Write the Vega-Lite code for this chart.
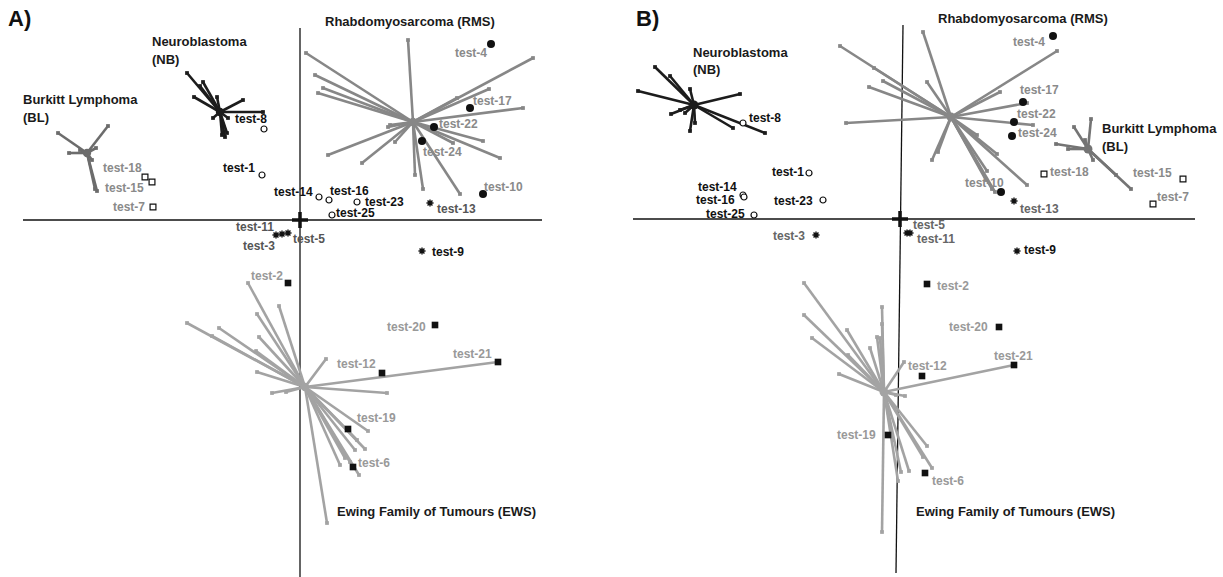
{
  "$schema": "https://vega.github.io/schema/vega-lite/v6.json",
  "padding": 0,
  "spacing": 0,
  "background": "white",
  "config": {"view": {"stroke": null}, "font": "Liberation Sans"},
  "resolve": {"scale": {"x": "independent", "y": "independent"}},
  "datasets": {
    "axes": [
      {"p": "A", "part": "axis", "x": -277, "y": 0, "x2": 242, "y2": 0},
      {"p": "A", "part": "axis", "x": 0, "y": 192, "x2": 0, "y2": -357},
      {"p": "A", "part": "cross", "x": -8, "y": 0, "x2": 8, "y2": 0},
      {"p": "A", "part": "cross", "x": 0, "y": -8, "x2": 0, "y2": 8},
      {"p": "B", "part": "axis", "x": -267, "y": 0, "x2": 295, "y2": 0},
      {"p": "B", "part": "axis", "x": 3, "y": 194, "x2": -4, "y2": -354},
      {"p": "B", "part": "cross", "x": -8, "y": 0, "x2": 8, "y2": 0},
      {"p": "B", "part": "cross", "x": 0, "y": -8, "x2": 0, "y2": 8}
    ],
    "centroids": [
      {"k": "A-BL", "p": "A", "g": "BL", "x": -213, "y": 67},
      {"k": "A-NB", "p": "A", "g": "NB", "x": -80, "y": 108},
      {"k": "A-RMS", "p": "A", "g": "RMS", "x": 113, "y": 98},
      {"k": "A-EWS", "p": "A", "g": "EWS", "x": 5, "y": -167},
      {"k": "B-NB", "p": "B", "g": "NB", "x": -206, "y": 114},
      {"k": "B-RMS", "p": "B", "g": "RMS", "x": 51, "y": 102},
      {"k": "B-BL", "p": "B", "g": "BL", "x": 188, "y": 70},
      {"k": "B-EWS", "p": "B", "g": "EWS", "x": -16, "y": -173}
    ],
    "stars": [
      {"k": "A-BL", "p": "A", "g": "BL", "x": -242, "y": 87},
      {"k": "A-BL", "p": "A", "g": "BL", "x": -192, "y": 94},
      {"k": "A-BL", "p": "A", "g": "BL", "x": -231, "y": 67},
      {"k": "A-BL", "p": "A", "g": "BL", "x": -203, "y": 29},
      {"k": "A-BL", "p": "A", "g": "BL", "x": -205, "y": 31},
      {"k": "A-BL", "p": "A", "g": "BL", "x": -204, "y": 72},
      {"k": "A-BL", "p": "A", "g": "BL", "x": -220, "y": 70},
      {"k": "A-BL", "p": "A", "g": "BL", "x": -208, "y": 60},
      {"k": "A-NB", "p": "A", "g": "NB", "x": -113, "y": 147},
      {"k": "A-NB", "p": "A", "g": "NB", "x": -97, "y": 138},
      {"k": "A-NB", "p": "A", "g": "NB", "x": -83, "y": 123},
      {"k": "A-NB", "p": "A", "g": "NB", "x": -106, "y": 123},
      {"k": "A-NB", "p": "A", "g": "NB", "x": -57, "y": 120},
      {"k": "A-NB", "p": "A", "g": "NB", "x": -37, "y": 108},
      {"k": "A-NB", "p": "A", "g": "NB", "x": -87, "y": 102},
      {"k": "A-NB", "p": "A", "g": "NB", "x": -72, "y": 102},
      {"k": "A-NB", "p": "A", "g": "NB", "x": -75, "y": 83},
      {"k": "A-NB", "p": "A", "g": "NB", "x": -73, "y": 87},
      {"k": "A-NB", "p": "A", "g": "NB", "x": -78, "y": 85},
      {"k": "A-NB", "p": "A", "g": "NB", "x": -100, "y": 134},
      {"k": "A-RMS", "p": "A", "g": "RMS", "x": 108, "y": 180},
      {"k": "A-RMS", "p": "A", "g": "RMS", "x": 6, "y": 167},
      {"k": "A-RMS", "p": "A", "g": "RMS", "x": 233, "y": 162},
      {"k": "A-RMS", "p": "A", "g": "RMS", "x": 15, "y": 145},
      {"k": "A-RMS", "p": "A", "g": "RMS", "x": 23, "y": 132},
      {"k": "A-RMS", "p": "A", "g": "RMS", "x": 18, "y": 127},
      {"k": "A-RMS", "p": "A", "g": "RMS", "x": 189, "y": 131},
      {"k": "A-RMS", "p": "A", "g": "RMS", "x": 223, "y": 112},
      {"k": "A-RMS", "p": "A", "g": "RMS", "x": 157, "y": 122},
      {"k": "A-RMS", "p": "A", "g": "RMS", "x": 88, "y": 93},
      {"k": "A-RMS", "p": "A", "g": "RMS", "x": 28, "y": 65},
      {"k": "A-RMS", "p": "A", "g": "RMS", "x": 62, "y": 57},
      {"k": "A-RMS", "p": "A", "g": "RMS", "x": 95, "y": 78},
      {"k": "A-RMS", "p": "A", "g": "RMS", "x": 115, "y": 45},
      {"k": "A-RMS", "p": "A", "g": "RMS", "x": 123, "y": 31},
      {"k": "A-RMS", "p": "A", "g": "RMS", "x": 160, "y": 26},
      {"k": "A-RMS", "p": "A", "g": "RMS", "x": 183, "y": 79},
      {"k": "A-RMS", "p": "A", "g": "RMS", "x": 200, "y": 62},
      {"k": "A-RMS", "p": "A", "g": "RMS", "x": 153, "y": 77},
      {"k": "A-RMS", "p": "A", "g": "RMS", "x": 90, "y": 95},
      {"k": "A-EWS", "p": "A", "g": "EWS", "x": -52, "y": -63},
      {"k": "A-EWS", "p": "A", "g": "EWS", "x": -21, "y": -86},
      {"k": "A-EWS", "p": "A", "g": "EWS", "x": -43, "y": -94},
      {"k": "A-EWS", "p": "A", "g": "EWS", "x": -113, "y": -103},
      {"k": "A-EWS", "p": "A", "g": "EWS", "x": -81, "y": -108},
      {"k": "A-EWS", "p": "A", "g": "EWS", "x": -88, "y": -116},
      {"k": "A-EWS", "p": "A", "g": "EWS", "x": -41, "y": -117},
      {"k": "A-EWS", "p": "A", "g": "EWS", "x": -44, "y": -131},
      {"k": "A-EWS", "p": "A", "g": "EWS", "x": -43, "y": -152},
      {"k": "A-EWS", "p": "A", "g": "EWS", "x": -28, "y": -173},
      {"k": "A-EWS", "p": "A", "g": "EWS", "x": -14, "y": -172},
      {"k": "A-EWS", "p": "A", "g": "EWS", "x": 26, "y": -139},
      {"k": "A-EWS", "p": "A", "g": "EWS", "x": 198, "y": -142},
      {"k": "A-EWS", "p": "A", "g": "EWS", "x": 87, "y": -173},
      {"k": "A-EWS", "p": "A", "g": "EWS", "x": 68, "y": -211},
      {"k": "A-EWS", "p": "A", "g": "EWS", "x": 65, "y": -229},
      {"k": "A-EWS", "p": "A", "g": "EWS", "x": 57, "y": -220},
      {"k": "A-EWS", "p": "A", "g": "EWS", "x": 40, "y": -245},
      {"k": "A-EWS", "p": "A", "g": "EWS", "x": 50, "y": -242},
      {"k": "A-EWS", "p": "A", "g": "EWS", "x": 59, "y": -255},
      {"k": "A-EWS", "p": "A", "g": "EWS", "x": 27, "y": -303},
      {"k": "A-EWS", "p": "A", "g": "EWS", "x": 55, "y": -230},
      {"k": "A-EWS", "p": "A", "g": "EWS", "x": 45, "y": -238},
      {"k": "B-NB", "p": "B", "g": "NB", "x": -262, "y": 128},
      {"k": "B-NB", "p": "B", "g": "NB", "x": -245, "y": 152},
      {"k": "B-NB", "p": "B", "g": "NB", "x": -230, "y": 143},
      {"k": "B-NB", "p": "B", "g": "NB", "x": -210, "y": 130},
      {"k": "B-NB", "p": "B", "g": "NB", "x": -160, "y": 125},
      {"k": "B-NB", "p": "B", "g": "NB", "x": -135, "y": 86},
      {"k": "B-NB", "p": "B", "g": "NB", "x": -167, "y": 91},
      {"k": "B-NB", "p": "B", "g": "NB", "x": -229, "y": 105},
      {"k": "B-NB", "p": "B", "g": "NB", "x": -215, "y": 106},
      {"k": "B-NB", "p": "B", "g": "NB", "x": -210, "y": 88},
      {"k": "B-NB", "p": "B", "g": "NB", "x": -205, "y": 96},
      {"k": "B-NB", "p": "B", "g": "NB", "x": -220, "y": 109},
      {"k": "B-RMS", "p": "B", "g": "RMS", "x": -60, "y": 173},
      {"k": "B-RMS", "p": "B", "g": "RMS", "x": -31, "y": 132},
      {"k": "B-RMS", "p": "B", "g": "RMS", "x": -17, "y": 138},
      {"k": "B-RMS", "p": "B", "g": "RMS", "x": -54, "y": 96},
      {"k": "B-RMS", "p": "B", "g": "RMS", "x": 92, "y": 30},
      {"k": "B-RMS", "p": "B", "g": "RMS", "x": -26, "y": 151},
      {"k": "B-RMS", "p": "B", "g": "RMS", "x": 23, "y": 187},
      {"k": "B-RMS", "p": "B", "g": "RMS", "x": 157, "y": 168},
      {"k": "B-RMS", "p": "B", "g": "RMS", "x": 27, "y": 137},
      {"k": "B-RMS", "p": "B", "g": "RMS", "x": 100, "y": 127},
      {"k": "B-RMS", "p": "B", "g": "RMS", "x": 127, "y": 116},
      {"k": "B-RMS", "p": "B", "g": "RMS", "x": 133, "y": 94},
      {"k": "B-RMS", "p": "B", "g": "RMS", "x": 32, "y": 59},
      {"k": "B-RMS", "p": "B", "g": "RMS", "x": 38, "y": 67},
      {"k": "B-RMS", "p": "B", "g": "RMS", "x": 77, "y": 84},
      {"k": "B-RMS", "p": "B", "g": "RMS", "x": 97, "y": 65},
      {"k": "B-RMS", "p": "B", "g": "RMS", "x": 127, "y": 34},
      {"k": "B-RMS", "p": "B", "g": "RMS", "x": 87, "y": 48},
      {"k": "B-RMS", "p": "B", "g": "RMS", "x": 95, "y": 27},
      {"k": "B-RMS", "p": "B", "g": "RMS", "x": 86, "y": 39},
      {"k": "B-BL", "p": "B", "g": "BL", "x": 191, "y": 100},
      {"k": "B-BL", "p": "B", "g": "BL", "x": 174, "y": 92},
      {"k": "B-BL", "p": "B", "g": "BL", "x": 156, "y": 75},
      {"k": "B-BL", "p": "B", "g": "BL", "x": 168, "y": 70},
      {"k": "B-BL", "p": "B", "g": "BL", "x": 231, "y": 30},
      {"k": "B-BL", "p": "B", "g": "BL", "x": 216, "y": 44},
      {"k": "B-BL", "p": "B", "g": "BL", "x": 193, "y": 59},
      {"k": "B-BL", "p": "B", "g": "BL", "x": 185, "y": 79},
      {"k": "B-EWS", "p": "B", "g": "EWS", "x": -96, "y": -64},
      {"k": "B-EWS", "p": "B", "g": "EWS", "x": -96, "y": -96},
      {"k": "B-EWS", "p": "B", "g": "EWS", "x": -53, "y": -111},
      {"k": "B-EWS", "p": "B", "g": "EWS", "x": -88, "y": -119},
      {"k": "B-EWS", "p": "B", "g": "EWS", "x": -23, "y": -118},
      {"k": "B-EWS", "p": "B", "g": "EWS", "x": -18, "y": -88},
      {"k": "B-EWS", "p": "B", "g": "EWS", "x": -18, "y": -105},
      {"k": "B-EWS", "p": "B", "g": "EWS", "x": -52, "y": -136},
      {"k": "B-EWS", "p": "B", "g": "EWS", "x": -61, "y": -155},
      {"k": "B-EWS", "p": "B", "g": "EWS", "x": 4, "y": -143},
      {"k": "B-EWS", "p": "B", "g": "EWS", "x": 114, "y": -146},
      {"k": "B-EWS", "p": "B", "g": "EWS", "x": 5, "y": -177},
      {"k": "B-EWS", "p": "B", "g": "EWS", "x": 27, "y": -227},
      {"k": "B-EWS", "p": "B", "g": "EWS", "x": 32, "y": -249},
      {"k": "B-EWS", "p": "B", "g": "EWS", "x": 23, "y": -238},
      {"k": "B-EWS", "p": "B", "g": "EWS", "x": 9, "y": -252},
      {"k": "B-EWS", "p": "B", "g": "EWS", "x": 1, "y": -253},
      {"k": "B-EWS", "p": "B", "g": "EWS", "x": -2, "y": -262},
      {"k": "B-EWS", "p": "B", "g": "EWS", "x": -18, "y": -313},
      {"k": "B-EWS", "p": "B", "g": "EWS", "x": -4, "y": -176},
      {"k": "B-EWS", "p": "B", "g": "EWS", "x": -7, "y": -221},
      {"k": "B-EWS", "p": "B", "g": "EWS", "x": -20, "y": -119},
      {"k": "B-EWS", "p": "B", "g": "EWS", "x": -30, "y": -129}
    ],
    "tests": [
      {"p": "A", "t": "test-1", "m": "open circle", "c": "NB", "x": -38, "y": 45, "lx": -77, "ly": 52},
      {"p": "A", "t": "test-2", "m": "filled square", "c": "EWS", "x": -12, "y": -63, "lx": -49, "ly": -56},
      {"p": "A", "t": "test-3", "m": "asterisk", "c": "none", "x": -18, "y": -14, "lx": -57, "ly": -26},
      {"p": "A", "t": "test-4", "m": "filled circle", "c": "RMS", "x": 191, "y": 176, "lx": 155, "ly": 167},
      {"p": "A", "t": "test-5", "m": "asterisk", "c": "none", "x": -12, "y": -13, "lx": -7, "ly": -19},
      {"p": "A", "t": "test-6", "m": "filled square", "c": "EWS", "x": 53, "y": -247, "lx": 58, "ly": -243},
      {"p": "A", "t": "test-7", "m": "open square", "c": "BL", "x": -147, "y": 13, "lx": -187, "ly": 13},
      {"p": "A", "t": "test-8", "m": "open circle", "c": "NB", "x": -36, "y": 91, "lx": -65, "ly": 101},
      {"p": "A", "t": "test-9", "m": "asterisk", "c": "NB", "x": 122, "y": -31, "lx": 132, "ly": -32},
      {"p": "A", "t": "test-10", "m": "filled circle", "c": "RMS", "x": 183, "y": 26, "lx": 184, "ly": 33},
      {"p": "A", "t": "test-11", "m": "asterisk", "c": "none", "x": -24, "y": -15, "lx": -64, "ly": -7},
      {"p": "A", "t": "test-12", "m": "filled square", "c": "EWS", "x": 82, "y": -153, "lx": 37, "ly": -144},
      {"p": "A", "t": "test-13", "m": "asterisk", "c": "none", "x": 130, "y": 17, "lx": 137, "ly": 11},
      {"p": "A", "t": "test-14", "m": "open circle", "c": "NB", "x": 19, "y": 23, "lx": -26, "ly": 28},
      {"p": "A", "t": "test-15", "m": "open square", "c": "BL", "x": -148, "y": 38, "lx": -195, "ly": 32},
      {"p": "A", "t": "test-16", "m": "open circle", "c": "NB", "x": 29, "y": 20, "lx": 30, "ly": 29},
      {"p": "A", "t": "test-17", "m": "filled circle", "c": "RMS", "x": 170, "y": 112, "lx": 173, "ly": 119},
      {"p": "A", "t": "test-18", "m": "open square", "c": "BL", "x": -155, "y": 43, "lx": -197, "ly": 52},
      {"p": "A", "t": "test-19", "m": "filled square", "c": "EWS", "x": 48, "y": -209, "lx": 57, "ly": -198},
      {"p": "A", "t": "test-20", "m": "filled square", "c": "EWS", "x": 135, "y": -105, "lx": 87, "ly": -107},
      {"p": "A", "t": "test-21", "m": "filled square", "c": "EWS", "x": 198, "y": -142, "lx": 153, "ly": -134},
      {"p": "A", "t": "test-22", "m": "filled circle", "c": "RMS", "x": 134, "y": 93, "lx": 139, "ly": 96},
      {"p": "A", "t": "test-23", "m": "open circle", "c": "NB", "x": 57, "y": 18, "lx": 65, "ly": 18},
      {"p": "A", "t": "test-24", "m": "filled circle", "c": "RMS", "x": 122, "y": 79, "lx": 123, "ly": 68},
      {"p": "A", "t": "test-25", "m": "open circle", "c": "NB", "x": 32, "y": 5, "lx": 36, "ly": 7},
      {"p": "B", "t": "test-1", "m": "open circle", "c": "NB", "x": -91, "y": 46, "lx": -128, "ly": 47},
      {"p": "B", "t": "test-2", "m": "filled square", "c": "EWS", "x": 27, "y": -65, "lx": 37, "ly": -67},
      {"p": "B", "t": "test-3", "m": "asterisk", "c": "none", "x": -84, "y": -16, "lx": -127, "ly": -17},
      {"p": "B", "t": "test-4", "m": "filled circle", "c": "RMS", "x": 153, "y": 183, "lx": 113, "ly": 177},
      {"p": "B", "t": "test-5", "m": "asterisk", "c": "none", "x": 7, "y": -14, "lx": 13, "ly": -6},
      {"p": "B", "t": "test-6", "m": "filled square", "c": "EWS", "x": 25, "y": -254, "lx": 32, "ly": -262},
      {"p": "B", "t": "test-7", "m": "open square", "c": "BL", "x": 253, "y": 15, "lx": 257, "ly": 22},
      {"p": "B", "t": "test-8", "m": "open circle", "c": "NB", "x": -157, "y": 96, "lx": -151, "ly": 101},
      {"p": "B", "t": "test-9", "m": "asterisk", "c": "NB", "x": 117, "y": -32, "lx": 124, "ly": -31},
      {"p": "B", "t": "test-10", "m": "filled circle", "c": "RMS", "x": 101, "y": 27, "lx": 65, "ly": 36},
      {"p": "B", "t": "test-11", "m": "asterisk", "c": "none", "x": 10, "y": -14, "lx": 17, "ly": -20},
      {"p": "B", "t": "test-12", "m": "filled square", "c": "EWS", "x": 22, "y": -157, "lx": 8, "ly": -147},
      {"p": "B", "t": "test-13", "m": "asterisk", "c": "none", "x": 114, "y": 18, "lx": 120, "ly": 10},
      {"p": "B", "t": "test-14", "m": "open circle", "c": "NB", "x": -157, "y": 24, "lx": -202, "ly": 32},
      {"p": "B", "t": "test-15", "m": "open square", "c": "BL", "x": 283, "y": 40, "lx": 233, "ly": 46},
      {"p": "B", "t": "test-16", "m": "open circle", "c": "NB", "x": -156, "y": 22, "lx": -204, "ly": 19},
      {"p": "B", "t": "test-17", "m": "filled circle", "c": "RMS", "x": 123, "y": 117, "lx": 120, "ly": 129},
      {"p": "B", "t": "test-18", "m": "open square", "c": "BL", "x": 144, "y": 45, "lx": 150, "ly": 47},
      {"p": "B", "t": "test-19", "m": "filled square", "c": "EWS", "x": -12, "y": -216, "lx": -63, "ly": -216},
      {"p": "B", "t": "test-20", "m": "filled square", "c": "EWS", "x": 99, "y": -108, "lx": 49, "ly": -108},
      {"p": "B", "t": "test-21", "m": "filled square", "c": "EWS", "x": 114, "y": -146, "lx": 94, "ly": -137},
      {"p": "B", "t": "test-22", "m": "filled circle", "c": "RMS", "x": 114, "y": 97, "lx": 117, "ly": 105},
      {"p": "B", "t": "test-23", "m": "open circle", "c": "NB", "x": -77, "y": 19, "lx": -126, "ly": 18},
      {"p": "B", "t": "test-24", "m": "filled circle", "c": "RMS", "x": 112, "y": 83, "lx": 118, "ly": 86},
      {"p": "B", "t": "test-25", "m": "open circle", "c": "NB", "x": -146, "y": 4, "lx": -194, "ly": 5}
    ],
    "names": [
      {"p": "A", "text": "Neuroblastoma", "x": -148, "y": 178},
      {"p": "A", "text": "(NB)", "x": -148, "y": 160},
      {"p": "A", "text": "Burkitt Lymphoma", "x": -277, "y": 120},
      {"p": "A", "text": "(BL)", "x": -277, "y": 102},
      {"p": "A", "text": "Rhabdomyosarcoma (RMS)", "x": 25, "y": 198},
      {"p": "A", "text": "Ewing Family of Tumours (EWS)", "x": 37, "y": -292},
      {"p": "B", "text": "Neuroblastoma", "x": -207, "y": 166},
      {"p": "B", "text": "(NB)", "x": -207, "y": 149},
      {"p": "B", "text": "Rhabdomyosarcoma (RMS)", "x": 38, "y": 200},
      {"p": "B", "text": "Burkitt Lymphoma", "x": 202, "y": 90},
      {"p": "B", "text": "(BL)", "x": 202, "y": 72},
      {"p": "B", "text": "Ewing Family of Tumours (EWS)", "x": 16, "y": -293}
    ],
    "tags": [
      {"p": "A", "text": "A)", "x": -292, "y": 201},
      {"p": "B", "text": "B)", "x": -264, "y": 200}
    ]
  },
  "hconcat": [
    {
      "width": 611,
      "height": 577,
      "resolve": {"scale": {"color": "independent"}},
      "layer": [
        {
          "data": {"name": "axes"},
          "transform": [{"filter": "datum.p === 'A' && datum.part === 'axis'"}],
          "mark": {"type": "rule", "color": "#111111", "strokeWidth": 1.3},
          "encoding": {
            "x": {"field": "x", "type": "quantitative", "scale": {"domain": [-300, 311], "nice": false, "zero": false}, "axis": null},
            "y": {"field": "y", "type": "quantitative", "scale": {"domain": [-357, 220], "nice": false, "zero": false}, "axis": null},
            "x2": {"field": "x2"}, "y2": {"field": "y2"}
          }
        },
        {
          "data": {"name": "axes"},
          "transform": [{"filter": "datum.p === 'A' && datum.part === 'cross'"}],
          "mark": {"type": "rule", "color": "#111111", "strokeWidth": 3.5},
          "encoding": {
            "x": {"field": "x", "type": "quantitative", "scale": {"domain": [-300, 311], "nice": false, "zero": false}, "axis": null},
            "y": {"field": "y", "type": "quantitative", "scale": {"domain": [-357, 220], "nice": false, "zero": false}, "axis": null},
            "x2": {"field": "x2"}, "y2": {"field": "y2"}
          }
        },
        {
          "data": {"name": "stars"},
          "transform": [
            {"filter": "datum.p === 'A'"},
            {"lookup": "k", "from": {"data": {"name": "centroids"}, "key": "k", "fields": ["x", "y"]}, "as": ["cx", "cy"]}
          ],
          "mark": {"type": "rule", "strokeWidth": 2.6},
          "encoding": {
            "x": {"field": "x", "type": "quantitative", "scale": {"domain": [-300, 311], "nice": false, "zero": false}, "axis": null},
            "y": {"field": "y", "type": "quantitative", "scale": {"domain": [-357, 220], "nice": false, "zero": false}, "axis": null},
            "x2": {"field": "cx"}, "y2": {"field": "cy"},
            "color": {"field": "g", "type": "nominal", "scale": {"domain": ["NB", "RMS", "EWS", "BL"], "range": ["#1c1c1c", "#878787", "#a3a3a3", "#6c6c6c"]}, "legend": null}
          }
        },
        {
          "data": {"name": "stars"},
          "transform": [{"filter": "datum.p === 'A'"}],
          "mark": {"type": "point", "shape": "square", "filled": true, "size": 14, "opacity": 1},
          "encoding": {
            "x": {"field": "x", "type": "quantitative", "scale": {"domain": [-300, 311], "nice": false, "zero": false}, "axis": null},
            "y": {"field": "y", "type": "quantitative", "scale": {"domain": [-357, 220], "nice": false, "zero": false}, "axis": null},
            "color": {"field": "g", "type": "nominal", "scale": {"domain": ["NB", "RMS", "EWS", "BL"], "range": ["#1c1c1c", "#878787", "#a3a3a3", "#6c6c6c"]}, "legend": null}
          }
        },
        {
          "data": {"name": "centroids"},
          "transform": [{"filter": "datum.p === 'A'"}],
          "mark": {"type": "point", "shape": "circle", "filled": true, "size": 70, "opacity": 1},
          "encoding": {
            "x": {"field": "x", "type": "quantitative", "scale": {"domain": [-300, 311], "nice": false, "zero": false}, "axis": null},
            "y": {"field": "y", "type": "quantitative", "scale": {"domain": [-357, 220], "nice": false, "zero": false}, "axis": null},
            "color": {"field": "g", "type": "nominal", "scale": {"domain": ["NB", "RMS", "EWS", "BL"], "range": ["#1c1c1c", "#878787", "#a3a3a3", "#6c6c6c"]}, "legend": null}
          }
        },
        {
          "data": {"name": "tests"},
          "transform": [{"filter": "datum.p === 'A' && datum.m === 'open circle'"}],
          "mark": {"type": "point", "shape": "circle", "filled": true, "fill": "white", "stroke": "#111111", "strokeWidth": 1.2, "size": 36, "opacity": 1},
          "encoding": {
            "x": {"field": "x", "type": "quantitative", "scale": {"domain": [-300, 311], "nice": false, "zero": false}, "axis": null},
            "y": {"field": "y", "type": "quantitative", "scale": {"domain": [-357, 220], "nice": false, "zero": false}, "axis": null}
          }
        },
        {
          "data": {"name": "tests"},
          "transform": [{"filter": "datum.p === 'A' && datum.m === 'filled circle'"}],
          "mark": {"type": "point", "shape": "circle", "filled": true, "color": "#111111", "size": 64, "opacity": 1},
          "encoding": {
            "x": {"field": "x", "type": "quantitative", "scale": {"domain": [-300, 311], "nice": false, "zero": false}, "axis": null},
            "y": {"field": "y", "type": "quantitative", "scale": {"domain": [-357, 220], "nice": false, "zero": false}, "axis": null}
          }
        },
        {
          "data": {"name": "tests"},
          "transform": [{"filter": "datum.p === 'A' && datum.m === 'open square'"}],
          "mark": {"type": "point", "shape": "square", "filled": true, "fill": "white", "stroke": "#111111", "strokeWidth": 1.2, "size": 34, "opacity": 1},
          "encoding": {
            "x": {"field": "x", "type": "quantitative", "scale": {"domain": [-300, 311], "nice": false, "zero": false}, "axis": null},
            "y": {"field": "y", "type": "quantitative", "scale": {"domain": [-357, 220], "nice": false, "zero": false}, "axis": null}
          }
        },
        {
          "data": {"name": "tests"},
          "transform": [{"filter": "datum.p === 'A' && datum.m === 'filled square'"}],
          "mark": {"type": "point", "shape": "square", "filled": true, "color": "#111111", "size": 44, "opacity": 1},
          "encoding": {
            "x": {"field": "x", "type": "quantitative", "scale": {"domain": [-300, 311], "nice": false, "zero": false}, "axis": null},
            "y": {"field": "y", "type": "quantitative", "scale": {"domain": [-357, 220], "nice": false, "zero": false}, "axis": null}
          }
        },
        {
          "data": {"name": "tests"},
          "transform": [{"filter": "datum.p === 'A' && datum.m === 'asterisk'"}],
          "mark": {"type": "point", "shape": "M-1,0L1,0M0,-1L0,1M-0.7,-0.7L0.7,0.7M-0.7,0.7L0.7,-0.7", "filled": false, "stroke": "#111111", "strokeWidth": 1.4, "size": 50, "opacity": 1},
          "encoding": {
            "x": {"field": "x", "type": "quantitative", "scale": {"domain": [-300, 311], "nice": false, "zero": false}, "axis": null},
            "y": {"field": "y", "type": "quantitative", "scale": {"domain": [-357, 220], "nice": false, "zero": false}, "axis": null}
          }
        },
        {
          "data": {"name": "tests"},
          "transform": [{"filter": "datum.p === 'A'"}],
          "mark": {"type": "text", "align": "left", "baseline": "middle", "font": "Liberation Sans", "fontWeight": "bold", "fontSize": 12},
          "encoding": {
            "x": {"field": "lx", "type": "quantitative", "scale": {"domain": [-300, 311], "nice": false, "zero": false}, "axis": null},
            "y": {"field": "ly", "type": "quantitative", "scale": {"domain": [-357, 220], "nice": false, "zero": false}, "axis": null},
            "text": {"field": "t"},
            "color": {"field": "c", "type": "nominal", "scale": {"domain": ["NB", "RMS", "EWS", "BL", "none"], "range": ["#111111", "#8a8a8a", "#999999", "#8a8a8a", "#555555"]}, "legend": null}
          }
        },
        {
          "data": {"name": "names"},
          "transform": [{"filter": "datum.p === 'A'"}],
          "mark": {"type": "text", "align": "left", "baseline": "middle", "font": "Liberation Sans", "fontWeight": "bold", "fontSize": 13, "color": "#1a1a1a"},
          "encoding": {
            "x": {"field": "x", "type": "quantitative", "scale": {"domain": [-300, 311], "nice": false, "zero": false}, "axis": null},
            "y": {"field": "y", "type": "quantitative", "scale": {"domain": [-357, 220], "nice": false, "zero": false}, "axis": null},
            "text": {"field": "text"}
          }
        },
        {
          "data": {"name": "tags"},
          "transform": [{"filter": "datum.p === 'A'"}],
          "mark": {"type": "text", "align": "left", "baseline": "middle", "font": "Liberation Sans", "fontWeight": "bold", "fontSize": 22, "color": "#111111"},
          "encoding": {
            "x": {"field": "x", "type": "quantitative", "scale": {"domain": [-300, 311], "nice": false, "zero": false}, "axis": null},
            "y": {"field": "y", "type": "quantitative", "scale": {"domain": [-357, 220], "nice": false, "zero": false}, "axis": null},
            "text": {"field": "text"}
          }
        }
      ]
    },
    {
      "width": 611,
      "height": 577,
      "resolve": {"scale": {"color": "independent"}},
      "layer": [
        {
          "data": {"name": "axes"},
          "transform": [{"filter": "datum.p === 'B' && datum.part === 'axis'"}],
          "mark": {"type": "rule", "color": "#111111", "strokeWidth": 1.3},
          "encoding": {
            "x": {"field": "x", "type": "quantitative", "scale": {"domain": [-289, 322], "nice": false, "zero": false}, "axis": null},
            "y": {"field": "y", "type": "quantitative", "scale": {"domain": [-358, 219], "nice": false, "zero": false}, "axis": null},
            "x2": {"field": "x2"}, "y2": {"field": "y2"}
          }
        },
        {
          "data": {"name": "axes"},
          "transform": [{"filter": "datum.p === 'B' && datum.part === 'cross'"}],
          "mark": {"type": "rule", "color": "#111111", "strokeWidth": 3.5},
          "encoding": {
            "x": {"field": "x", "type": "quantitative", "scale": {"domain": [-289, 322], "nice": false, "zero": false}, "axis": null},
            "y": {"field": "y", "type": "quantitative", "scale": {"domain": [-358, 219], "nice": false, "zero": false}, "axis": null},
            "x2": {"field": "x2"}, "y2": {"field": "y2"}
          }
        },
        {
          "data": {"name": "stars"},
          "transform": [
            {"filter": "datum.p === 'B'"},
            {"lookup": "k", "from": {"data": {"name": "centroids"}, "key": "k", "fields": ["x", "y"]}, "as": ["cx", "cy"]}
          ],
          "mark": {"type": "rule", "strokeWidth": 2.6},
          "encoding": {
            "x": {"field": "x", "type": "quantitative", "scale": {"domain": [-289, 322], "nice": false, "zero": false}, "axis": null},
            "y": {"field": "y", "type": "quantitative", "scale": {"domain": [-358, 219], "nice": false, "zero": false}, "axis": null},
            "x2": {"field": "cx"}, "y2": {"field": "cy"},
            "color": {"field": "g", "type": "nominal", "scale": {"domain": ["NB", "RMS", "EWS", "BL"], "range": ["#1c1c1c", "#878787", "#a3a3a3", "#747474"]}, "legend": null}
          }
        },
        {
          "data": {"name": "stars"},
          "transform": [{"filter": "datum.p === 'B'"}],
          "mark": {"type": "point", "shape": "square", "filled": true, "size": 14, "opacity": 1},
          "encoding": {
            "x": {"field": "x", "type": "quantitative", "scale": {"domain": [-289, 322], "nice": false, "zero": false}, "axis": null},
            "y": {"field": "y", "type": "quantitative", "scale": {"domain": [-358, 219], "nice": false, "zero": false}, "axis": null},
            "color": {"field": "g", "type": "nominal", "scale": {"domain": ["NB", "RMS", "EWS", "BL"], "range": ["#1c1c1c", "#878787", "#a3a3a3", "#747474"]}, "legend": null}
          }
        },
        {
          "data": {"name": "centroids"},
          "transform": [{"filter": "datum.p === 'B'"}],
          "mark": {"type": "point", "shape": "circle", "filled": true, "size": 80, "opacity": 1},
          "encoding": {
            "x": {"field": "x", "type": "quantitative", "scale": {"domain": [-289, 322], "nice": false, "zero": false}, "axis": null},
            "y": {"field": "y", "type": "quantitative", "scale": {"domain": [-358, 219], "nice": false, "zero": false}, "axis": null},
            "color": {"field": "g", "type": "nominal", "scale": {"domain": ["NB", "RMS", "EWS", "BL"], "range": ["#1c1c1c", "#878787", "#a3a3a3", "#747474"]}, "legend": null}
          }
        },
        {
          "data": {"name": "tests"},
          "transform": [{"filter": "datum.p === 'B' && datum.m === 'open circle'"}],
          "mark": {"type": "point", "shape": "circle", "filled": true, "fill": "white", "stroke": "#111111", "strokeWidth": 1.2, "size": 36, "opacity": 1},
          "encoding": {
            "x": {"field": "x", "type": "quantitative", "scale": {"domain": [-289, 322], "nice": false, "zero": false}, "axis": null},
            "y": {"field": "y", "type": "quantitative", "scale": {"domain": [-358, 219], "nice": false, "zero": false}, "axis": null}
          }
        },
        {
          "data": {"name": "tests"},
          "transform": [{"filter": "datum.p === 'B' && datum.m === 'filled circle'"}],
          "mark": {"type": "point", "shape": "circle", "filled": true, "color": "#111111", "size": 64, "opacity": 1},
          "encoding": {
            "x": {"field": "x", "type": "quantitative", "scale": {"domain": [-289, 322], "nice": false, "zero": false}, "axis": null},
            "y": {"field": "y", "type": "quantitative", "scale": {"domain": [-358, 219], "nice": false, "zero": false}, "axis": null}
          }
        },
        {
          "data": {"name": "tests"},
          "transform": [{"filter": "datum.p === 'B' && datum.m === 'open square'"}],
          "mark": {"type": "point", "shape": "square", "filled": true, "fill": "white", "stroke": "#111111", "strokeWidth": 1.2, "size": 34, "opacity": 1},
          "encoding": {
            "x": {"field": "x", "type": "quantitative", "scale": {"domain": [-289, 322], "nice": false, "zero": false}, "axis": null},
            "y": {"field": "y", "type": "quantitative", "scale": {"domain": [-358, 219], "nice": false, "zero": false}, "axis": null}
          }
        },
        {
          "data": {"name": "tests"},
          "transform": [{"filter": "datum.p === 'B' && datum.m === 'filled square'"}],
          "mark": {"type": "point", "shape": "square", "filled": true, "color": "#111111", "size": 44, "opacity": 1},
          "encoding": {
            "x": {"field": "x", "type": "quantitative", "scale": {"domain": [-289, 322], "nice": false, "zero": false}, "axis": null},
            "y": {"field": "y", "type": "quantitative", "scale": {"domain": [-358, 219], "nice": false, "zero": false}, "axis": null}
          }
        },
        {
          "data": {"name": "tests"},
          "transform": [{"filter": "datum.p === 'B' && datum.m === 'asterisk'"}],
          "mark": {"type": "point", "shape": "M-1,0L1,0M0,-1L0,1M-0.7,-0.7L0.7,0.7M-0.7,0.7L0.7,-0.7", "filled": false, "stroke": "#111111", "strokeWidth": 1.4, "size": 50, "opacity": 1},
          "encoding": {
            "x": {"field": "x", "type": "quantitative", "scale": {"domain": [-289, 322], "nice": false, "zero": false}, "axis": null},
            "y": {"field": "y", "type": "quantitative", "scale": {"domain": [-358, 219], "nice": false, "zero": false}, "axis": null}
          }
        },
        {
          "data": {"name": "tests"},
          "transform": [{"filter": "datum.p === 'B'"}],
          "mark": {"type": "text", "align": "left", "baseline": "middle", "font": "Liberation Sans", "fontWeight": "bold", "fontSize": 12},
          "encoding": {
            "x": {"field": "lx", "type": "quantitative", "scale": {"domain": [-289, 322], "nice": false, "zero": false}, "axis": null},
            "y": {"field": "ly", "type": "quantitative", "scale": {"domain": [-358, 219], "nice": false, "zero": false}, "axis": null},
            "text": {"field": "t"},
            "color": {"field": "c", "type": "nominal", "scale": {"domain": ["NB", "RMS", "EWS", "BL", "none"], "range": ["#111111", "#8a8a8a", "#999999", "#8a8a8a", "#666666"]}, "legend": null}
          }
        },
        {
          "data": {"name": "names"},
          "transform": [{"filter": "datum.p === 'B'"}],
          "mark": {"type": "text", "align": "left", "baseline": "middle", "font": "Liberation Sans", "fontWeight": "bold", "fontSize": 13, "color": "#1a1a1a"},
          "encoding": {
            "x": {"field": "x", "type": "quantitative", "scale": {"domain": [-289, 322], "nice": false, "zero": false}, "axis": null},
            "y": {"field": "y", "type": "quantitative", "scale": {"domain": [-358, 219], "nice": false, "zero": false}, "axis": null},
            "text": {"field": "text"}
          }
        },
        {
          "data": {"name": "tags"},
          "transform": [{"filter": "datum.p === 'B'"}],
          "mark": {"type": "text", "align": "left", "baseline": "middle", "font": "Liberation Sans", "fontWeight": "bold", "fontSize": 22, "color": "#111111"},
          "encoding": {
            "x": {"field": "x", "type": "quantitative", "scale": {"domain": [-289, 322], "nice": false, "zero": false}, "axis": null},
            "y": {"field": "y", "type": "quantitative", "scale": {"domain": [-358, 219], "nice": false, "zero": false}, "axis": null},
            "text": {"field": "text"}
          }
        }
      ]
    }
  ]
}
